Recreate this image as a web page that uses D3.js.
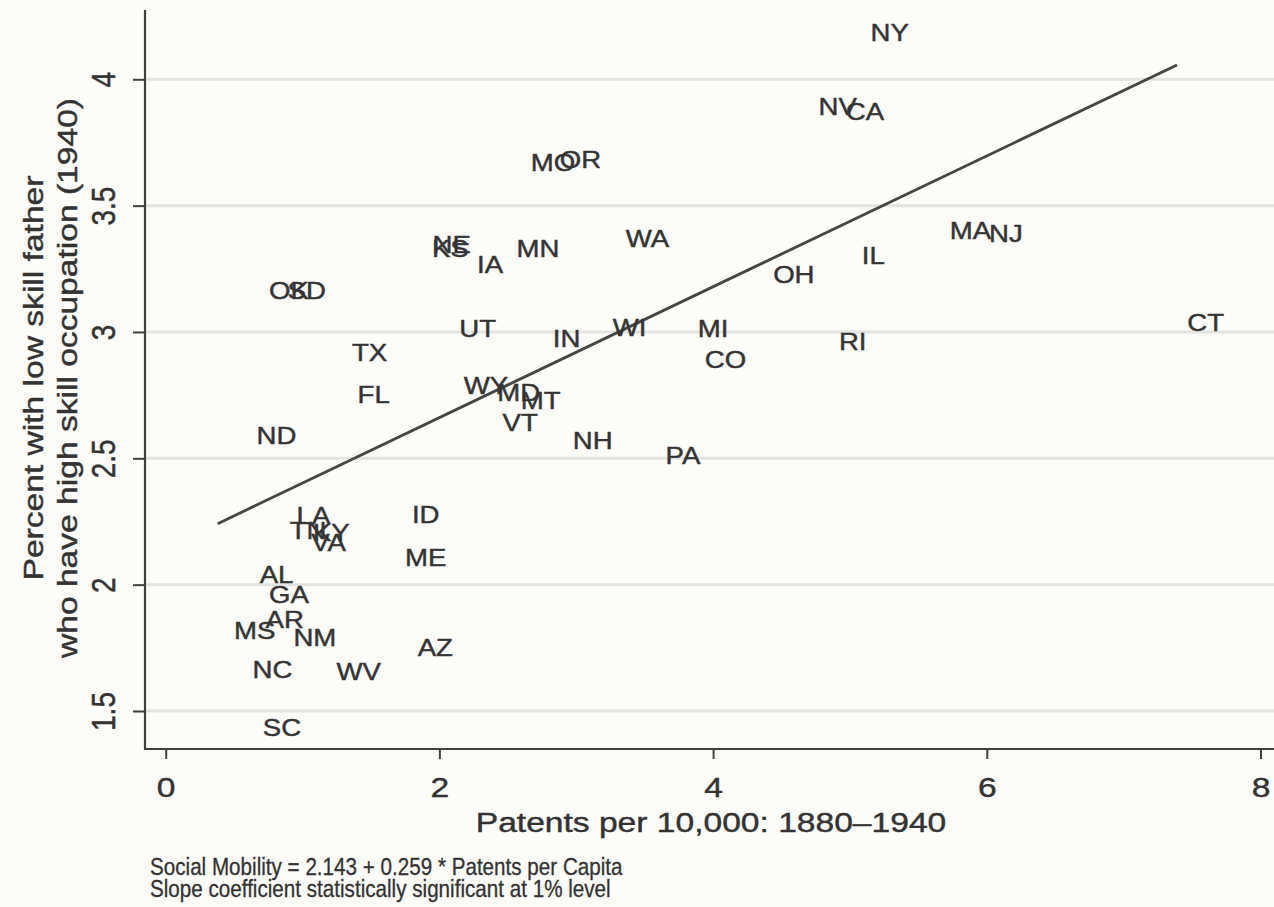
<!DOCTYPE html>
<html><head><meta charset="utf-8">
<script src="https://cdn.jsdelivr.net/npm/d3@7"></script>
<style>
html,body{margin:0;padding:0;background:#fcfcf8;}
svg{display:block;}
text{font-family:"Liberation Sans",Arial,Helvetica,sans-serif;fill:#333;}
</style>
</head><body>
<svg id="chart" width="1274" height="907"></svg>
<script>
// ---------- data ----------
const states   = ["NY","NV","CA","MO","OR","NE","KS","IA","MN","WA","MA","NJ","IL","OH","OK","SD","UT","IN","WI","MI","CT","RI","CO","TX","FL","WY","MD","MT","VT","NH","PA","ND","LA","TN","KY","VA","ID","ME","AL","GA","AR","MS","NM","AZ","NC","WV","SC"];
const patents  = [5.29,4.91,5.11,2.83,3.03,2.09,2.08,2.37,2.72,3.52,5.88,6.14,5.17,4.59,0.90,1.03,2.28,2.93,3.39,4.00,7.60,5.02,4.09,1.49,1.52,2.34,2.58,2.74,2.59,3.12,3.78,0.81,1.08,1.04,1.21,1.19,1.90,1.90,0.81,0.90,0.87,0.65,1.09,1.97,0.78,1.41,0.85];
const mobility = [4.185,3.892,3.874,3.672,3.685,3.348,3.330,3.268,3.332,3.372,3.404,3.392,3.305,3.230,3.166,3.166,3.015,2.976,3.020,3.015,3.040,2.964,2.890,2.920,2.755,2.790,2.760,2.730,2.643,2.573,2.512,2.590,2.275,2.216,2.208,2.168,2.280,2.110,2.040,1.962,1.864,1.820,1.792,1.750,1.665,1.657,1.434];
const xTicks = [0,2,4,6,8];
const yTicks = [1.5,2,2.5,3,3.5,4];
const fitIntercept = 2.143;
const fitSlope = 0.259;
const fitRange = [0.38, 7.39];
const xTitle = "Patents per 10,000: 1880\u20131940";
const yTitle = ["Percent with low skill father","who have high skill occupation (1940)"];
const notes = ["Social Mobility = 2.143 + 0.259 * Patents per Capita","Slope coefficient statistically significant at 1% level"];

// ---------- layout ----------
const svg = d3.select("#chart");
const W = 1274, H = 907;
const axisX = 145, axisY = 749, plotTop = 10;
const x = d3.scaleLinear().domain([0,8]).range([165.7,1260.5]);
const y = d3.scaleLinear().domain([1.5,4]).range([711,79.3]);
const SX = 1.2;
const INK = "#2f2f2f";

svg.append("rect").attr("width",W).attr("height",H).attr("fill","#fcfcf8");

// gridlines
svg.append("g").selectAll("line").data(yTicks).join("line")
  .attr("x1",axisX).attr("x2",W)
  .attr("y1",d=>y(d)).attr("y2",d=>y(d))
  .attr("stroke","#e3e3e0").attr("stroke-width",3);

// fit line
const fitData = fitRange.map(v=>({x:v,y:fitIntercept+fitSlope*v}));
svg.append("path").datum(fitData)
  .attr("d",d3.line().x(d=>x(d.x)).y(d=>y(d.y)))
  .attr("stroke","#454545").attr("stroke-width",2.8).attr("fill","none");

// state labels
svg.append("g").selectAll("text").data(states).join("text")
  .attr("transform",(d,i)=>`translate(${x(patents[i])},${y(mobility[i])}) scale(1.15,1)`)
  .attr("dy","0.36em").attr("text-anchor","middle")
  .attr("font-size",24).attr("fill","#383838")
  .attr("stroke","#383838").attr("stroke-width",0.45)
  .text(d=>d);

// x axis
const gx = svg.append("g").attr("transform",`translate(0,${axisY})`)
  .call(d3.axisBottom(x).tickValues(xTicks).tickSize(10).tickFormat(d3.format("d")));
gx.select(".domain").remove();
gx.selectAll(".tick line").attr("stroke","#404040").attr("stroke-width",2);
gx.selectAll(".tick text").attr("y",null).attr("dy",null)
  .attr("transform",`translate(0,48) scale(${SX},1)`)
  .attr("font-size",28).attr("fill",INK).attr("stroke",INK).attr("stroke-width",0.4)
  .attr("font-family",null);
svg.append("line").attr("x1",axisX-1).attr("x2",W).attr("y1",axisY).attr("y2",axisY)
  .attr("stroke","#404040").attr("stroke-width",2.2);

// y axis
const gy = svg.append("g").attr("transform",`translate(${axisX},0)`)
  .call(d3.axisLeft(y).tickValues(yTicks).tickSize(12).tickFormat(d=>String(d)));
gy.select(".domain").remove();
gy.selectAll(".tick line").attr("stroke","#404040").attr("stroke-width",2);
gy.selectAll(".tick text").attr("x",null).attr("dy",null)
  .attr("text-anchor","middle")
  .attr("transform",`translate(-30,0) scale(${SX},1) rotate(-90)`)
  .attr("font-size",28).attr("fill",INK).attr("stroke",INK).attr("stroke-width",0.4)
  .attr("font-family",null);
svg.append("line").attr("x1",axisX).attr("x2",axisX).attr("y1",plotTop).attr("y2",axisY+1)
  .attr("stroke","#404040").attr("stroke-width",2.2);

// axis titles
svg.append("text").attr("transform",`translate(711,832) scale(${SX},1)`)
  .attr("text-anchor","middle").attr("font-size",28)
  .attr("fill",INK).attr("stroke",INK).attr("stroke-width",0.4).text(xTitle);
svg.append("g").selectAll("text").data(yTitle).join("text")
  .attr("transform",(d,i)=>`translate(${43+i*34},378) rotate(-90) scale(${SX},1)`)
  .attr("text-anchor","middle").attr("font-size",28)
  .attr("fill",INK).attr("stroke",INK).attr("stroke-width",0.4).text(d=>d);

// notes
svg.append("g").selectAll("text").data(notes).join("text")
  .attr("transform",(d,i)=>`translate(150,${875+i*22}) scale(0.86,1)`)
  .attr("font-size",24).attr("fill",INK).attr("stroke",INK).attr("stroke-width",0.3)
  .text(d=>d);
</script>
</body></html>
